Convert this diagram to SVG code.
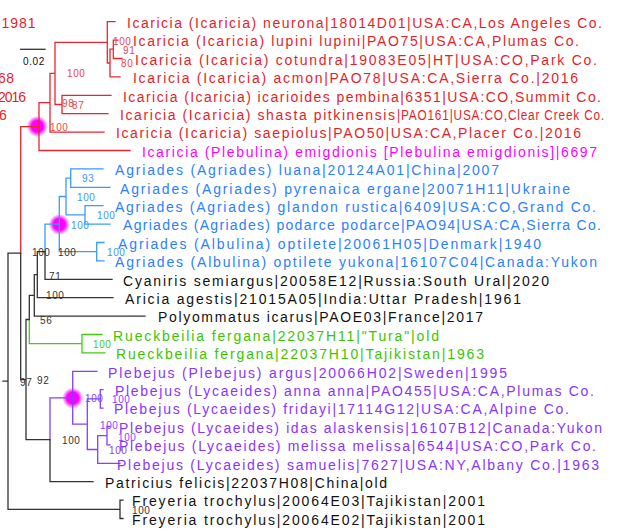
<svg xmlns="http://www.w3.org/2000/svg" width="620" height="529" viewBox="0 0 620 529">
<defs>
<radialGradient id="blob"><stop offset="0" stop-color="#ff00ff"/><stop offset="0.55" stop-color="#ff00ff"/><stop offset="1" stop-color="#ff00ff" stop-opacity="0"/></radialGradient>
<style>
.t{font-family:"Liberation Sans",Arial,sans-serif;font-size:14px;letter-spacing:1px}
.bs{font-family:"Liberation Sans",Arial,sans-serif;font-size:10px;letter-spacing:0.6px}
.r{fill:#e41e2a}.bl{fill:#2a80ff}.g{fill:#3cc400}.p{fill:#8a33ff}.m{fill:#ff00ff}.k{fill:#111}
.lr{fill:#e8474f}.lb{fill:#3a96f5}.lg{fill:#44cc22}.lp{fill:#8a40ff}.lk{fill:#333}
.e{fill:none;stroke-width:1.3;stroke-linecap:square}
.er{stroke:#e8262e}.eb{stroke:#3a9bff}.eg{stroke:#44cc11}.ep{stroke:#8a3cff}.ek{stroke:#333}
</style>
</defs>
<rect width="620" height="529" fill="#fff"/>
<g id="highlights">
<circle cx="37.3" cy="126.3" r="10.5" fill="url(#blob)"/>
<circle cx="59.3" cy="224.5" r="10.5" fill="url(#blob)"/>
<circle cx="72.7" cy="398" r="10.5" fill="url(#blob)"/>
</g>
<g id="connectors">
<path class="e er" d="M107.3 21.7V63M107.3 21.7H115M110 49.2V76.9M110 76.9H120M107.3 63H110M113.3 40.1V58.5M113.3 40.1H118M113.3 58.5H122M110 49.2H113.3M55 42.3V104.5M55 42.3H107.3M62 95.3V113.7M62 95.3H111M62 113.7H108M55 104.5H62M50 73.4V132.1M50 73.4H55M50 132.1H104M39 102.7V150.5M39 102.7H50M39 150.5H130M20.7 126.6H39M20.7 126.6V253.1"/>
<path class="e eb" d="M70.7 168.9V187.3M70.7 168.9H103M70.7 187.3H110M85 205.7V224.1M85 205.7H103M85 224.1H110M66 178.1V214.9M66 178.1H70.7M66 214.9H85M96.7 242.5V260.9M96.7 242.5H104M96.7 260.9H104M59.3 196.5V251.7M59.3 196.5H66M59.3 251.7H96.7M45 224.1H59.3M45 224.1V251.7"/>
<path class="e eg" d="M29.3 319.5V343.7M29.3 343.7H82M82 334.5V352.9M82 334.5H102M82 352.9H105"/>
<path class="e ep" d="M107 426.5V444.9M107 426.5H110M107 444.9H110M97.7 435.7V463.3M97.7 435.7H107M97.7 463.3H120M100.3 389.7V408.1M100.3 389.7H103M100.3 408.1H103M87.3 398.9V449.5M87.3 398.9H100.3M87.3 449.5H97.7M72.7 371.3V424.2M72.7 371.3H97M72.7 424.2H87.3M50 397.8H72.7M50 397.8V439.7"/>
<path class="e ek" d="M20.7 253.1V379.6M45 251.7V279.3M45 279.3H112M37.3 251.7V297.7M37.3 251.7H45M37.3 297.7H113M34.3 274.7V316.1M34.3 274.7H37.3M34.3 316.1H145M29.3 295.4V319.5M29.3 295.4H34.3M26 319.5V439.7M26 319.5H29.3M50 439.7V481.7M50 481.7H93M26 439.7H50M20.7 379.6H26M120 500.1V518.5M120 500.1H123M120 518.5H123M8 253.1V509.3M8 253.1H20.7M8 509.3H120M3 381.2H8"/>
<path class="e ek" d="M20.7 49.3H45"/>
</g>
<g id="scale"><text class="bs k" x="23" y="65" font-size="11">0.02</text></g>
<g id="support">
<text class="bs lr" x="113" y="44.5">100</text>
<text class="bs lr" x="123" y="53.5">91</text>
<text class="bs lr" x="121" y="66.5">80</text>
<text class="bs lr" x="67" y="76.5">100</text>
<text class="bs lr" x="62" y="106.5">98</text>
<text class="bs lr" x="72" y="108.5">87</text>
<text class="bs lr" x="50" y="130.5">100</text>
<text class="bs lb" x="82" y="181.5">93</text>
<text class="bs lb" x="77" y="200.5">100</text>
<text class="bs lb" x="97" y="218.5">100</text>
<text class="bs lb" x="71" y="228.5">100</text>
<text class="bs lb" x="107" y="255.5">100</text>
<text class="bs lk" x="32" y="255.5">100</text>
<text class="bs lk" x="58" y="255.5">100</text>
<text class="bs lk" x="49" y="279.5">71</text>
<text class="bs lk" x="46" y="298.5">100</text>
<text class="bs lk" x="40" y="323.5">56</text>
<text class="bs lg" x="93" y="347.5">100</text>
<text class="bs lk" x="20" y="385.5">97</text>
<text class="bs lk" x="37" y="383.5">92</text>
<text class="bs lp" x="85" y="401.5">100</text>
<text class="bs lp" x="112" y="402.5">100</text>
<text class="bs lp" x="100" y="428.5">100</text>
<text class="bs lp" x="118" y="440.5">100</text>
<text class="bs lp" x="109" y="453.5">100</text>
<text class="bs lk" x="62" y="443.5">100</text>
<text class="bs lk" x="132" y="513.5">100</text>
</g>
<g id="edge-labels">
<text class="t r" x="1.5" y="28" textLength="35" lengthAdjust="spacing">1981</text>
<text class="t r" x="-2" y="83.2" textLength="17" lengthAdjust="spacing">68</text>
<text class="t r" x="-2" y="101.6" textLength="29" lengthAdjust="spacing">2016</text>
<text class="t r" x="-1" y="120" textLength="9" lengthAdjust="spacing">6</text>
</g>
<g id="tip-neurona"><text class="t r" x="127" y="28" textLength="476" lengthAdjust="spacing">Icaricia (Icaricia) neurona|18014D01|USA:CA,Los Angeles Co.</text></g>
<g id="tip-lupini"><text class="t r" x="133" y="46.4" textLength="447" lengthAdjust="spacing">Icaricia (Icaricia) lupini lupini|PAO75|USA:CA,Plumas Co.</text></g>
<g id="tip-cotundra"><text class="t r" x="135" y="64.8" textLength="463" lengthAdjust="spacing">Icaricia (Icaricia) cotundra|19083E05|HT|USA:CO,Park Co.</text></g>
<g id="tip-acmon"><text class="t r" x="133" y="83.2" textLength="446" lengthAdjust="spacing">Icaricia (Icaricia) acmon|PAO78|USA:CA,Sierra Co.|2016</text></g>
<g id="tip-icarioides"><text class="t r" x="123" y="101.6" textLength="479" lengthAdjust="spacing">Icaricia (Icaricia) icarioides pembina|6351|USA:CO,Summit Co.</text></g>
<g id="tip-shasta"><text class="t r" x="120" y="120" textLength="276" lengthAdjust="spacing">Icaricia (Icaricia) shasta pitkinensis</text><text class="t r" x="397" y="120" font-size="16" letter-spacing="0" textLength="208" lengthAdjust="spacingAndGlyphs">|PAO161|USA:CO,Clear Creek Co.</text></g>
<g id="tip-saepiolus"><text class="t r" x="116" y="138.4" textLength="466" lengthAdjust="spacing">Icaricia (Icaricia) saepiolus|PAO50|USA:CA,Placer Co.|2016</text></g>
<g id="tip-emigdionis"><text class="t m" x="142" y="156.8" textLength="456" lengthAdjust="spacing">Icaricia (Plebulina) emigdionis [Plebulina emigdionis]|6697</text></g>
<g id="tip-luana"><text class="t bl" x="115" y="175.2" textLength="385" lengthAdjust="spacing">Agriades (Agriades) luana|20124A01|China|2007</text></g>
<g id="tip-pyrenaica"><text class="t bl" x="120" y="193.6" textLength="451" lengthAdjust="spacing">Agriades (Agriades) pyrenaica ergane|20071H11|Ukraine</text></g>
<g id="tip-glandon"><text class="t bl" x="115" y="212" textLength="482" lengthAdjust="spacing">Agriades (Agriades) glandon rustica|6409|USA:CO,Grand Co.</text></g>
<g id="tip-podarce"><text class="t bl" x="123" y="230.4" textLength="479" lengthAdjust="spacing">Agriades (Agriades) podarce podarce|PAO94|USA:CA,Sierra Co.</text></g>
<g id="tip-optilete"><text class="t bl" x="118" y="248.8" textLength="424" lengthAdjust="spacing">Agriades (Albulina) optilete|20061H05|Denmark|1940</text></g>
<g id="tip-yukona"><text class="t bl" x="115" y="267.2" textLength="483" lengthAdjust="spacing">Agriades (Albulina) optilete yukona|16107C04|Canada:Yukon</text></g>
<g id="tip-cyaniris"><text class="t k" x="123" y="285.6" textLength="427" lengthAdjust="spacing">Cyaniris semiargus|20058E12|Russia:South Ural|2020</text></g>
<g id="tip-aricia"><text class="t k" x="125" y="304" textLength="397" lengthAdjust="spacing">Aricia agestis|21015A05|India:Uttar Pradesh|1961</text></g>
<g id="tip-polyommatus"><text class="t k" x="158" y="322.4" textLength="326" lengthAdjust="spacing">Polyommatus icarus|PAOE03|France|2017</text></g>
<g id="tip-rueck1"><text class="t g" x="113" y="340.8" textLength="327" lengthAdjust="spacing">Rueckbeilia fergana|22037H11|"Tura"|old</text></g>
<g id="tip-rueck2"><text class="t g" x="116" y="359.2" textLength="369" lengthAdjust="spacing">Rueckbeilia fergana|22037H10|Tajikistan|1963</text></g>
<g id="tip-argus"><text class="t p" x="108" y="377.6" textLength="400" lengthAdjust="spacing">Plebejus (Plebejus) argus|20066H02|Sweden|1995</text></g>
<g id="tip-anna"><text class="t p" x="115" y="396" textLength="480" lengthAdjust="spacing">Plebejus (Lycaeides) anna anna|PAO455|USA:CA,Plumas Co.</text></g>
<g id="tip-fridayi"><text class="t p" x="114" y="414.4" textLength="456" lengthAdjust="spacing">Plebejus (Lycaeides) fridayi|17114G12|USA:CA,Alpine Co.</text></g>
<g id="tip-idas"><text class="t p" x="119" y="432.8" textLength="484" lengthAdjust="spacing">Plebejus (Lycaeides) idas alaskensis|16107B12|Canada:Yukon</text></g>
<g id="tip-melissa"><text class="t p" x="119" y="451.2" textLength="478" lengthAdjust="spacing">Plebejus (Lycaeides) melissa melissa|6544|USA:CO,Park Co.</text></g>
<g id="tip-samuelis"><text class="t p" x="117" y="469.6" textLength="483" lengthAdjust="spacing">Plebejus (Lycaeides) samuelis|7627|USA:NY,Albany Co.|1963</text></g>
<g id="tip-patricius"><text class="t k" x="105" y="488" textLength="283" lengthAdjust="spacing">Patricius felicis|22037H08|China|old</text></g>
<g id="tip-freyeria1"><text class="t k" x="132" y="506.4" textLength="354" lengthAdjust="spacing">Freyeria trochylus|20064E03|Tajikistan|2001</text></g>
<g id="tip-freyeria2"><text class="t k" x="132" y="524.8" textLength="354" lengthAdjust="spacing">Freyeria trochylus|20064E02|Tajikistan|2001</text></g>
</svg>
